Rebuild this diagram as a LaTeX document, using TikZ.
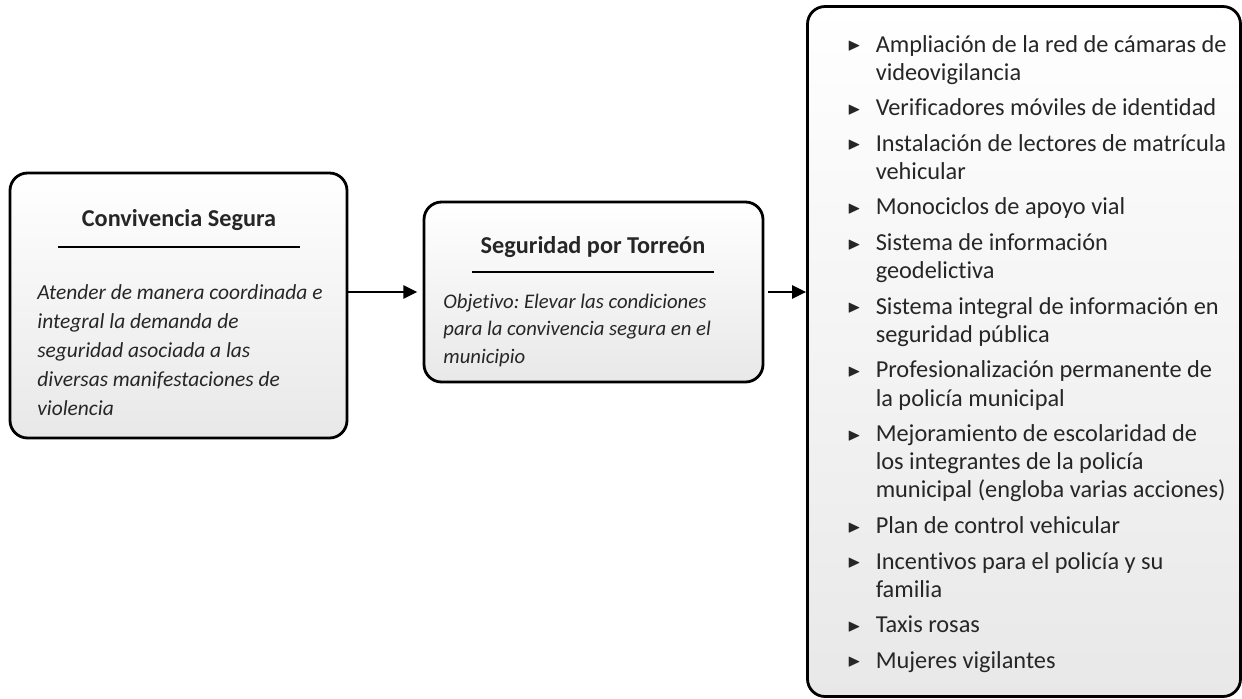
\documentclass[tikz,border=0pt]{standalone}
\usepackage{fontspec, amssymb}
\setmainfont{Carlito}[Ligatures=NoCommon]
\usetikzlibrary{positioning, arrows.meta}
\newcommand{\tri}{\raisebox{0.12ex}{\scalebox{0.72}{$\blacktriangleright$}}}
\frenchspacing

\begin{document}
\begin{tikzpicture}[x=0.02cm, y=-0.02cm,
  gbox/.style={draw=black, line width=1.6pt, rounded corners=10pt, top color=white, bottom color=black!9, inner sep=0pt},
  ttl/.style={font=\fontsize{13.8}{16}\selectfont\bfseries, text=black!85},
  body/.style={font=\fontsize{12.2}{16.5}\selectfont\itshape, text=black!85, align=left, anchor=north west, inner sep=0pt},
  conn/.style={-{Triangle[length=8pt, width=7.5pt]}, line width=1.2pt}
]
\useasboundingbox (0,0) rectangle (1242,698);

% Convivencia Segura
\node[gbox, minimum width=337*0.02cm, minimum height=265*0.02cm] (conv) at (178.5,305.5) {};
\node[ttl] (convT) at (179,220) {Convivencia Segura};
\draw[line width=0.9pt] (58,247) -- (300,247);
\node[body] (convB) at (37,284) {Atender de manera coordinada e\\integral la demanda de\\seguridad asociada a las\\diversas manifestaciones de\\violencia};

% Seguridad por Torreon
\node[gbox, minimum width=339*0.02cm, minimum height=180*0.02cm] (seg) at (593.5,292) {};
\node[ttl] (segT) at (593,247) {Seguridad por Torreón};
\draw[line width=0.9pt] (472,272) -- (714,272);
\node[body, font=\fontsize{11.8}{15.5}\selectfont\itshape] (segB) at (443,294) {Objetivo: Elevar las condiciones\\para la convivencia segura en el\\municipio};

% Acciones
\node[gbox, minimum width=433*0.02cm, minimum height=690*0.02cm] (acc) at (1024,351.5) {};
\node[anchor=north west, inner sep=0pt, font=\fontsize{13.86}{16}\selectfont, text=black!85] (accL) at (847,32) {%
\def\arraystretch{1}%
\begin{tabular}{@{}l@{\hspace{8.4pt}}l@{}}
\tri & Ampliación de la red de cámaras de\\
     & videovigilancia\\[4.25pt]
\tri & Verificadores móviles de identidad\\[4.25pt]
\tri & Instalación de lectores de matrícula\\
     & vehicular\\[4.25pt]
\tri & Monociclos de apoyo vial\\[4.25pt]
\tri & Sistema de información\\
     & geodelictiva\\[4.25pt]
\tri & Sistema integral de información en\\
     & seguridad pública\\[4.25pt]
\tri & Profesionalización permanente de\\
     & la policía municipal\\[4.25pt]
\tri & Mejoramiento de escolaridad de\\
     & los integrantes de la policía\\
     & municipal (engloba varias acciones)\\[4.25pt]
\tri & Plan de control vehicular\\[4.25pt]
\tri & Incentivos para el policía y su\\
     & familia\\[4.25pt]
\tri & Taxis rosas\\[4.25pt]
\tri & Mujeres vigilantes
\end{tabular}};

% Flechas
\draw[conn, shorten >=3pt] (conv.east |- seg.west) -- (seg.west);
\draw[conn, shorten <=2pt] (seg.east) -- (acc.west |- seg.east);
\end{tikzpicture}
\end{document}
